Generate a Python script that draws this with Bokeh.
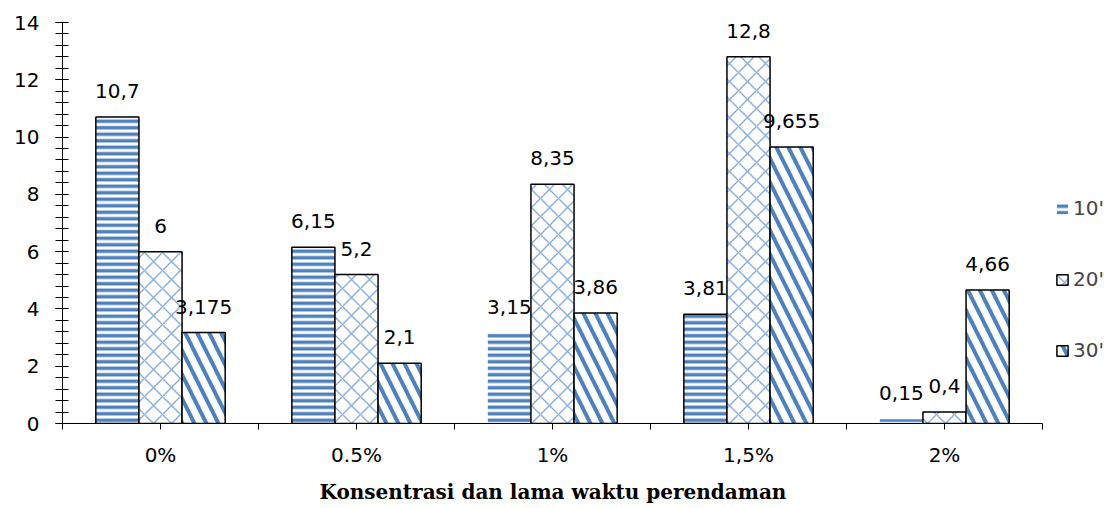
from bokeh.plotting import figure
from bokeh.models import (ColumnDataSource, FixedTicker, LabelSet, Legend, LegendItem,
                          Range1d, SingleIntervalTicker, Title)
from bokeh.core.properties import value
from bokeh.embed import file_html
from bokeh.resources import INLINE

# ---- data ----
categories = ["0%", "0.5%", "1%", "1,5%", "2%"]
series_names = ["10'", "20'", "30'"]
values_10 = [10.7, 6.15, 3.15, 3.81, 0.15]
values_20 = [6.0, 5.2, 8.35, 12.8, 0.4]
values_30 = [3.175, 2.1, 3.86, 9.655, 4.66]
y_ticks = [0, 2, 4, 6, 8, 10, 12, 14]
x_title = "Konsentrasi dan lama waktu perendaman"

# style: which 10' bars carry an outline in the reference
outline_10 = [1, 1, 0, 1, 0]

BLUE = "#4F81BD"
LIGHT = "#8DB0DC"
FONT = "DejaVu Sans"
FS = "20px"
BAR_W = 0.22
offsets = [-BAR_W, 0.0, BAR_W]
AXIS_W = 980          # pixel length of the category axis
EXTRA_W = 70          # room for the legend, right of the axis
FRAME_W = AXIS_W + EXTRA_W
FRAME_H = 401
TOP, LEFT, BOTTOM, RIGHT = 22, 62, 77, 0
TITLE_W = 466         # approx. rendered width of the x title
n = len(categories)

STY10 = dict(fill_color="white", hatch_pattern="horizontal_line", hatch_color=BLUE,
             hatch_scale=6.5, hatch_weight=3.5)
STY20 = dict(fill_color="white", line_color="black", line_width=1.5,
             hatch_pattern="diagonal_cross", hatch_color=LIGHT, hatch_scale=18, hatch_weight=1.5)
STY30 = dict(fill_color="white", line_color="black", line_width=1.5,
             hatch_pattern="left_diagonal_line", hatch_color=BLUE, hatch_scale=24, hatch_weight=4)


def fmt(v):
    return f"{v:g}".replace(".", ",")


def make_src(vals, k, extra=None):
    d = dict(x=[i + 0.5 + offsets[k] for i in range(n)],
             v=vals, lbl=[fmt(v) for v in vals])
    if extra is not None:
        d["la"] = extra
    return ColumnDataSource(d)


p = figure(frame_width=FRAME_W, frame_height=FRAME_H,
           x_range=Range1d(0, n * FRAME_W / AXIS_W),
           y_range=Range1d(y_ticks[0], y_ticks[-1]),
           output_backend="svg", toolbar_location=None,
           min_border_left=LEFT, min_border_right=RIGHT, min_border_top=TOP,
           min_border_bottom=BOTTOM)
p.outline_line_color = None
p.xgrid.visible = False
p.ygrid.visible = False

s10 = make_src(values_10, 0, outline_10)
s20 = make_src(values_20, 1)
s30 = make_src(values_30, 2)

r10 = p.vbar(x="x", top="v", width=BAR_W, source=s10, line_color=None, **STY10)
p.vbar(x="x", top="v", width=BAR_W, source=s10, fill_color=None, line_color="black",
       line_width=1.5, line_alpha="la")
r20 = p.vbar(x="x", top="v", width=BAR_W, source=s20, **STY20)
r30 = p.vbar(x="x", top="v", width=BAR_W, source=s30, **STY30)

for s in (s10, s20, s30):
    p.add_layout(LabelSet(x="x", y="v", text="lbl", source=s, text_align="center",
                          text_baseline="middle", y_offset=26, text_font_size=value(FS),
                          text_font=value(FONT), text_color="black"))

# y axis
ya = p.yaxis[0]
ya.ticker = SingleIntervalTicker(interval=2, num_minor_ticks=5)
ya.major_tick_in = 6
ya.major_tick_out = 7
ya.minor_tick_in = 6
ya.minor_tick_out = 7
ya.major_tick_line_color = "black"
ya.minor_tick_line_color = "black"
ya.axis_line_color = "black"
ya.major_label_text_font = FONT
ya.major_label_text_font_size = FS
ya.major_label_text_color = "black"
ya.major_label_standoff = 16

# x axis
xa = p.xaxis[0]
xa.bounds = (0, n)
ticks = [i * 0.5 for i in range(2 * n + 1)]
xa.ticker = FixedTicker(ticks=ticks, minor_ticks=[])
overrides = {}
for t in ticks:
    overrides[t] = ""
for i, c in enumerate(categories):
    overrides[i + 0.5] = c
xa.major_label_overrides = overrides
xa.major_tick_in = 0
xa.major_tick_out = 6
xa.major_tick_line_color = "black"
xa.axis_line_color = "black"
xa.major_label_text_font = FONT
xa.major_label_text_font_size = FS
xa.major_label_text_color = "black"
xa.major_label_standoff = 13

# x-axis title, centred under the category axis (not under the legend room)
p.add_layout(Title(text=x_title, align="left", offset=(AXIS_W - TITLE_W) / 2,
                   text_font="DejaVu Serif", text_font_style="bold", text_font_size="20px",
                   text_color="black", standoff=17), "below")

legend = Legend(items=[LegendItem(label=series_names[0], renderers=[r10]),
                       LegendItem(label=series_names[1], renderers=[r20]),
                       LegendItem(label=series_names[2], renderers=[r30])],
                location=(AXIS_W + 13, 61), glyph_width=14, glyph_height=13,
                label_height=20, label_text_font=FONT, label_text_font_size=FS,
                label_standoff=4, spacing=47, padding=0, margin=0, border_line_color=None,
                background_fill_alpha=0)
p.add_layout(legend, "center")

open("out.html", "w").write(file_html(p, INLINE))
